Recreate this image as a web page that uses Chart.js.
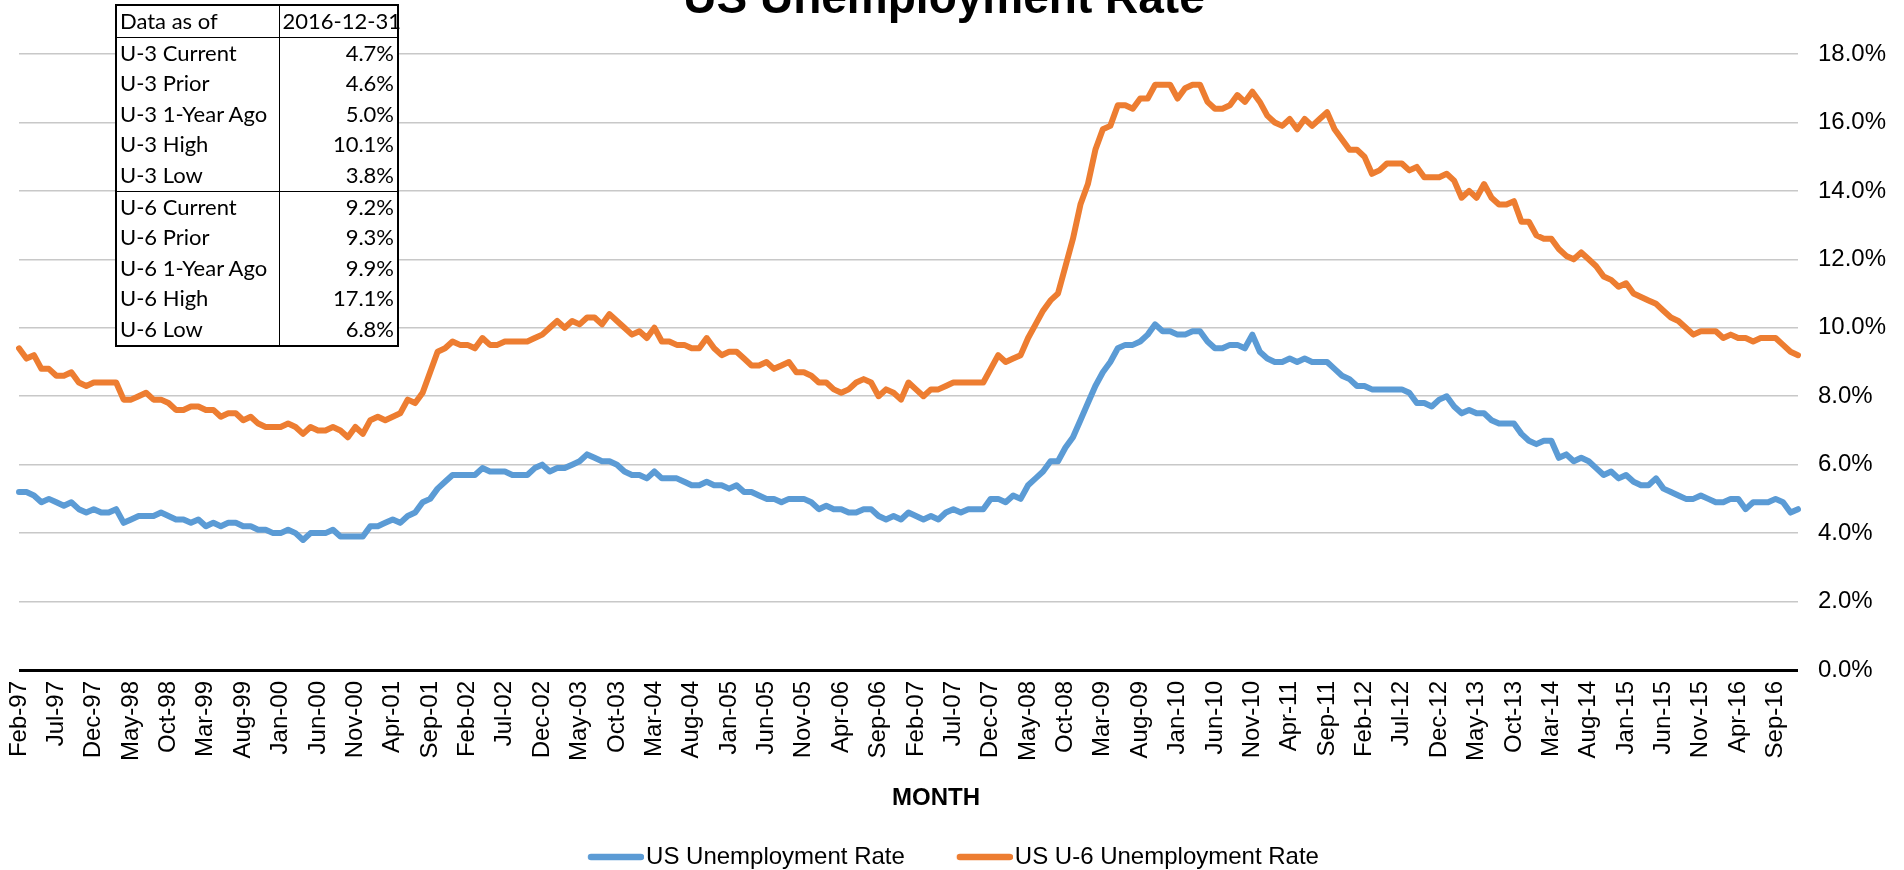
<!DOCTYPE html>
<html>
<head>
<meta charset="utf-8">
<title>US Unemployment Rate</title>
<script src="https://cdn.jsdelivr.net/npm/chart.js@4.4.1/dist/chart.umd.min.js"></script>
<style>
  html, body { margin: 0; padding: 0; background: #fff; }
  #wrap { position: relative; width: 1904px; height: 870px; }
  #stats {
    position: absolute; left: 115px; top: 4px;
    width: 284px; table-layout: fixed;
    border-collapse: collapse; background: #fff;
    border: 2.5px solid #000;
    font-family: Lato, "Open Sans", sans-serif; font-size: 22px; color: #000;
  }
  #stats td { height: 30.6px; line-height: 30.6px; padding: 0 3px; white-space: nowrap; }
  #stats td:first-child { border-right: 1px solid #000; }
  #stats td:last-child { text-align: right; }
  #stats tr.head td, #stats tr.split td { border-bottom: 1.5px solid #000; }
</style>
</head>
<body>
<div id="wrap">
  <canvas id="chart"></canvas>
  <table id="stats"><colgroup><col style="width:163px"><col></colgroup><tbody></tbody></table>
</div>
<script>
// monthly rates, Feb 1997 - Dec 2016 (%)
const firstYear = 1997
const firstMonth = 1 // Feb

const u3Rate = [
  5.2, 5.2, 5.1, 4.9, 5.0, 4.9, 4.8, 4.9, 4.7, 4.6, 4.7,        // 1997
  4.6, 4.6, 4.7, 4.3, 4.4, 4.5, 4.5, 4.5, 4.6, 4.5, 4.4, 4.4,   // 1998
  4.3, 4.4, 4.2, 4.3, 4.2, 4.3, 4.3, 4.2, 4.2, 4.1, 4.1, 4.0,   // 1999
  4.0, 4.1, 4.0, 3.8, 4.0, 4.0, 4.0, 4.1, 3.9, 3.9, 3.9, 3.9,   // 2000
  4.2, 4.2, 4.3, 4.4, 4.3, 4.5, 4.6, 4.9, 5.0, 5.3, 5.5, 5.7,   // 2001
  5.7, 5.7, 5.7, 5.9, 5.8, 5.8, 5.8, 5.7, 5.7, 5.7, 5.9, 6.0,   // 2002
  5.8, 5.9, 5.9, 6.0, 6.1, 6.3, 6.2, 6.1, 6.1, 6.0, 5.8, 5.7,   // 2003
  5.7, 5.6, 5.8, 5.6, 5.6, 5.6, 5.5, 5.4, 5.4, 5.5, 5.4, 5.4,   // 2004
  5.3, 5.4, 5.2, 5.2, 5.1, 5.0, 5.0, 4.9, 5.0, 5.0, 5.0, 4.9,   // 2005
  4.7, 4.8, 4.7, 4.7, 4.6, 4.6, 4.7, 4.7, 4.5, 4.4, 4.5, 4.4,   // 2006
  4.6, 4.5, 4.4, 4.5, 4.4, 4.6, 4.7, 4.6, 4.7, 4.7, 4.7, 5.0,   // 2007
  5.0, 4.9, 5.1, 5.0, 5.4, 5.6, 5.8, 6.1, 6.1, 6.5, 6.8, 7.3,   // 2008
  7.8, 8.3, 8.7, 9.0, 9.4, 9.5, 9.5, 9.6, 9.8, 10.1, 9.9, 9.9,  // 2009
  9.8, 9.8, 9.9, 9.9, 9.6, 9.4, 9.4, 9.5, 9.5, 9.4, 9.8, 9.3,   // 2010
  9.1, 9.0, 9.0, 9.1, 9.0, 9.1, 9.0, 9.0, 9.0, 8.8, 8.6, 8.5,   // 2011
  8.3, 8.3, 8.2, 8.2, 8.2, 8.2, 8.2, 8.1, 7.8, 7.8, 7.7, 7.9,   // 2012
  8.0, 7.7, 7.5, 7.6, 7.5, 7.5, 7.3, 7.2, 7.2, 7.2, 6.9, 6.7,   // 2013
  6.6, 6.7, 6.7, 6.2, 6.3, 6.1, 6.2, 6.1, 5.9, 5.7, 5.8, 5.6,   // 2014
  5.7, 5.5, 5.4, 5.4, 5.6, 5.3, 5.2, 5.1, 5.0, 5.0, 5.1, 5.0,   // 2015
  4.9, 4.9, 5.0, 5.0, 4.7, 4.9, 4.9, 4.9, 5.0, 4.9, 4.6, 4.7    // 2016
]

const u6Rate = [
  9.4, 9.1, 9.2, 8.8, 8.8, 8.6, 8.6, 8.7, 8.4, 8.3, 8.4,                 // 1997
  8.4, 8.4, 8.4, 7.9, 7.9, 8.0, 8.1, 7.9, 7.9, 7.8, 7.6, 7.6,            // 1998
  7.7, 7.7, 7.6, 7.6, 7.4, 7.5, 7.5, 7.3, 7.4, 7.2, 7.1, 7.1,            // 1999
  7.1, 7.2, 7.1, 6.9, 7.1, 7.0, 7.0, 7.1, 7.0, 6.8, 7.1, 6.9,            // 2000
  7.3, 7.4, 7.3, 7.4, 7.5, 7.9, 7.8, 8.1, 8.7, 9.3, 9.4, 9.6,            // 2001
  9.5, 9.5, 9.4, 9.7, 9.5, 9.5, 9.6, 9.6, 9.6, 9.6, 9.7, 9.8,            // 2002
  10.0, 10.2, 10.0, 10.2, 10.1, 10.3, 10.3, 10.1, 10.4, 10.2, 10.0, 9.8, // 2003
  9.9, 9.7, 10.0, 9.6, 9.6, 9.5, 9.5, 9.4, 9.4, 9.7, 9.4, 9.2,           // 2004
  9.3, 9.3, 9.1, 8.9, 8.9, 9.0, 8.8, 8.9, 9.0, 8.7, 8.7, 8.6,            // 2005
  8.4, 8.4, 8.2, 8.1, 8.2, 8.4, 8.5, 8.4, 8.0, 8.2, 8.1, 7.9,            // 2006
  8.4, 8.2, 8.0, 8.2, 8.2, 8.3, 8.4, 8.4, 8.4, 8.4, 8.4, 8.8,            // 2007
  9.2, 9.0, 9.1, 9.2, 9.7, 10.1, 10.5, 10.8, 11.0, 11.8, 12.6, 13.6,     // 2008
  14.2, 15.2, 15.8, 15.9, 16.5, 16.5, 16.4, 16.7, 16.7, 17.1, 17.1, 17.1,// 2009
  16.7, 17.0, 17.1, 17.1, 16.6, 16.4, 16.4, 16.5, 16.8, 16.6, 16.9, 16.6,// 2010
  16.2, 16.0, 15.9, 16.1, 15.8, 16.1, 15.9, 16.1, 16.3, 15.8, 15.5, 15.2,// 2011
  15.2, 15.0, 14.5, 14.6, 14.8, 14.8, 14.8, 14.6, 14.7, 14.4, 14.4, 14.4,// 2012
  14.5, 14.3, 13.8, 14.0, 13.8, 14.2, 13.8, 13.6, 13.6, 13.7, 13.1, 13.1,// 2013
  12.7, 12.6, 12.6, 12.3, 12.1, 12.0, 12.2, 12.0, 11.8, 11.5, 11.4, 11.2,// 2014
  11.3, 11.0, 10.9, 10.8, 10.7, 10.5, 10.3, 10.2, 10.0, 9.8, 9.9, 9.9,   // 2015
  9.9, 9.7, 9.8, 9.7, 9.7, 9.6, 9.7, 9.7, 9.7, 9.5, 9.3, 9.2             // 2016
]

// summary box
const statNames = ['U-3 Current', 'U-3 Prior', 'U-3 1-Year Ago', 'U-3 High', 'U-3 Low',
                   'U-6 Current', 'U-6 Prior', 'U-6 1-Year Ago', 'U-6 High', 'U-6 Low']
const statValues = ['4.7%', '4.6%', '5.0%', '10.1%', '3.8%', '9.2%', '9.3%', '9.9%', '17.1%', '6.8%']
const dataAsOf = '2016-12-31'

const yTicks = { min: 0, max: 18, step: 2 }
const labelEvery = 5

const monthNames = ['Jan', 'Feb', 'Mar', 'Apr', 'May', 'Jun', 'Jul', 'Aug', 'Sep', 'Oct', 'Nov', 'Dec']

const labels = u3Rate.map((_, i) => {
  const m = firstMonth + i
  const yy = (firstYear + Math.floor(m / 12)) % 100
  return monthNames[m % 12] + '-' + String(yy).padStart(2, '0')
})


// ----- tabla de resumen -----
const tbody = document.querySelector('#stats tbody')
tbody.innerHTML = `<tr class="head"><td>Data as of</td><td>${dataAsOf}</td></tr>`
statNames.forEach((name, i) => {
  const cls = i === 4 ? ' class="split"' : ''
  tbody.innerHTML += `<tr${cls}><td>${name}</td><td>${statValues[i]}</td></tr>`
})


// ----- grafico -----
Chart.defaults.font.family = '"Liberation Sans", Arial, sans-serif'
Chart.defaults.color = '#000'

// legend swatch: a short round-capped stroke, drawn off to the right of its
// box so the text sits close to it
const makeSwatch = (color) => {
  const c = document.createElement('canvas')
  c.width = 66
  c.height = 10
  const g = c.getContext('2d')
  g.strokeStyle = color
  g.lineWidth = 6.5
  g.lineCap = 'round'
  g.beginPath()
  g.moveTo(13, 5)
  g.lineTo(63, 5)
  g.stroke()
  return c
}

// title and axis caption, drawn straight on the canvas
const captions = {
  id: 'captions',
  afterDraw(chart) {
    const ctx = chart.ctx
    ctx.save()
    ctx.fillStyle = '#000'
    ctx.textAlign = 'center'
    ctx.textBaseline = 'alphabetic'
    ctx.font = 'bold 46px "Liberation Sans", Arial, sans-serif'
    ctx.fillText('US Unemployment Rate', 944, 13)
    ctx.font = 'bold 24px "Liberation Sans", Arial, sans-serif'
    ctx.textBaseline = 'middle'
    ctx.fillText('MONTH', 936, 798)
    ctx.restore()
  }
}

const chart = new Chart(document.getElementById('chart'), {
  type: 'line',
  data: {
    labels: labels,
    datasets: [{
      label: 'US Unemployment Rate',
      data: u3Rate,
      borderColor: '#5B9BD5',
      backgroundColor: '#5B9BD5',
      borderWidth: 6,
      borderCapStyle: 'round',
      borderJoinStyle: 'round',
      pointRadius: 0,
      pointStyle: makeSwatch('#5B9BD5'),
      tension: 0
    }, {
      label: 'US U-6 Unemployment Rate',
      data: u6Rate,
      borderColor: '#ED7D31',
      backgroundColor: '#ED7D31',
      borderWidth: 6,
      borderCapStyle: 'round',
      borderJoinStyle: 'round',
      pointRadius: 0,
      pointStyle: makeSwatch('#ED7D31'),
      tension: 0
    }]
  },
  options: {
    responsive: true,
    maintainAspectRatio: false,
    animation: false,
    layout: { padding: { top: 54, left: 19, right: 16, bottom: -9 } },
    plugins: {
      tooltip: { enabled: false },
      title: { display: false },
      legend: {
        position: 'bottom',
        labels: {
          font: { size: 24 },
          color: '#000',
          usePointStyle: true,
          pointStyleWidth: 46,
          padding: 52
        }
      }
    },
    scales: {
      x: {
        grid: { display: false },
        border: { display: false },
        ticks: {
          autoSkip: false,
          minRotation: 90,
          maxRotation: 90,
          padding: 3,
          font: { size: 24 },
          color: '#000',
          callback: (v, i) => i % labelEvery === 0 ? labels[i] : ''
        },
        afterFit: s => {
          s.height = 123
          s.paddingLeft = 0
          s.paddingRight = 0
        }
      },
      y: {
        position: 'right',
        min: yTicks.min,
        max: yTicks.max,
        border: { display: false },
        grid: {
          drawTicks: false,
          color: c => c.tick.value === 0 ? '#000' : '#c8c8c8',
          lineWidth: c => c.tick.value === 0 ? 3 : 1.5
        },
        ticks: {
          stepSize: yTicks.step,
          padding: 20,
          font: { size: 24 },
          color: '#000',
          callback: v => v.toFixed(1) + '%'
        },
        afterFit: s => {
          s.width = 90
          s.paddingTop = 0
          s.paddingBottom = 0
        }
      }
    }
  },
  plugins: [captions]
})
</script>
</body>
</html>
